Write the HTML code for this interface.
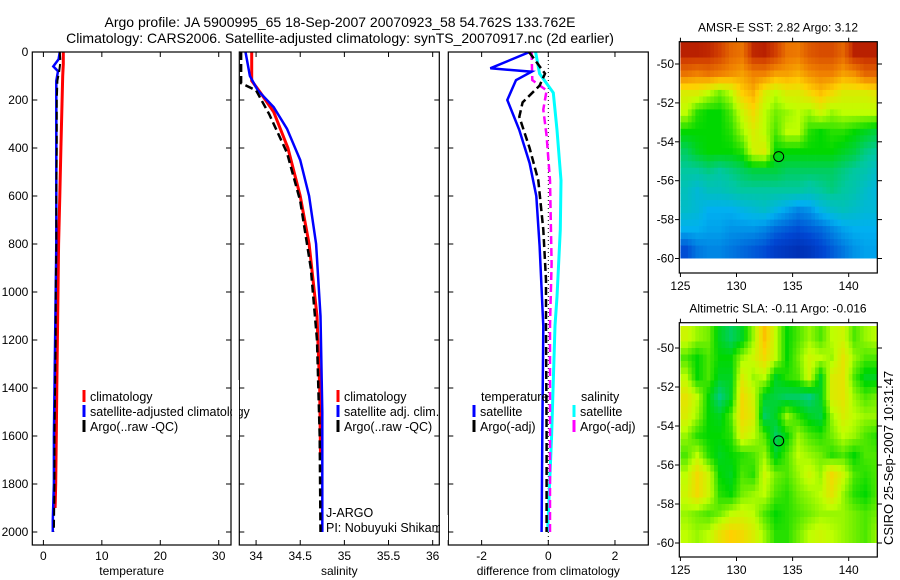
<!DOCTYPE html>
<html><head><meta charset="utf-8"><style>
html,body{margin:0;padding:0;background:#fff;}
svg{display:block;font-family:"Liberation Sans",sans-serif;}
text{fill:#000;}
</style></head><body>
<svg id="fig" width="900" height="580" viewBox="0 0 900 580">
<text x="340" y="27" font-size="14" text-anchor="middle">Argo profile: JA 5900995_65 18-Sep-2007 20070923_58 54.762S 133.762E</text>
<text x="340" y="43" font-size="14" text-anchor="middle">Climatology: CARS2006. Satellite-adjusted climatology: synTS_20070917.nc (2d earlier)</text>
<g id="layer"></g>
<text transform="translate(893,545) rotate(-90)" font-size="13">CSIRO 25-Sep-2007 10:31:47</text>
</svg>
<script>
// ---------- DATA ----------
const depthTicks=[0,200,400,600,800,1000,1200,1400,1600,1800,2000];
const tempTicks=[0,10,20,30];
const salTicks=[34,34.5,35,35.5,36];
const salTickLabels=["34","34.5","35","35.5","36"];
const diffTicks=[-2,0,2];
const lonTicks=[125,130,135,140];
const latTicks=[-50,-52,-54,-56,-58,-60];

const tClimDepth=[0,50,100,200,400,600,800,1000,1200,1400,1600,1800,1900];
const tClimVal=[3.4,3.4,3.3,3.2,3.0,2.8,2.6,2.5,2.4,2.3,2.2,2.1,2.0];
const tSatDepth=[0,30,60,80,120,200,400,600,800,1000,1200,1400,1600,1800,1950,2000];
const tSatVal=[2.8,2.6,1.7,2.5,2.2,2.2,2.2,2.2,2.2,2.1,2.0,1.9,1.8,1.8,1.6,1.6];
const tArgoDepth=[0,40,80,120,200,400,600,800,1000,1200,1400,1600,1800,2000];
const tArgoVal=[2.8,2.9,2.7,2.4,2.3,2.3,2.2,2.2,2.1,2.1,2.0,1.9,1.9,1.8];

const sClimDepth=[0,120,170,250,400,600,800,1100,1400,1680];
const sClimVal=[33.95,33.95,34.05,34.2,34.36,34.5,34.6,34.69,34.72,34.73];
const sSatDepth=[0,100,160,230,320,450,600,800,1100,1500,2000];
const sSatVal=[33.88,33.93,34.02,34.2,34.35,34.5,34.6,34.68,34.73,34.75,34.75];
const sArgoDepth=[0,130,160,260,420,620,900,1200,1600,2000];
const sArgoVal=[33.83,33.83,34.0,34.15,34.35,34.5,34.62,34.69,34.72,34.73];

const dTSatDepth=[0,68,82,117,200,325,463,600,808,1142,1600,2000];
const dTSatVal=[-0.56,-1.74,-0.5,-0.97,-1.23,-0.87,-0.56,-0.36,-0.26,-0.15,-0.18,-0.2];
const dTArgoDepth=[0,90,140,210,270,400,535,740,950,1140,1600,2000];
const dTArgoVal=[-0.58,-0.1,-0.26,-0.77,-0.87,-0.56,-0.3,-0.15,-0.07,-0.07,-0.05,-0.05];
const dSSatDepth=[0,90,170,325,535,740,1020,1140,1600,2000];
const dSSatVal=[-0.38,-0.26,0.15,0.26,0.38,0.36,0.26,0.2,0.1,-0.02];
const dSArgoDepth=[0,117,160,240,350,535,880,1140,1600,2000];
const dSArgoVal=[-0.5,-0.48,-0.05,-0.15,-0.05,0.05,0.1,0.05,0.05,0.05];

const mapLons=[125.5,126.5,127.5,128.5,129.5,130.5,131.5,132.5,133.5,134.5,135.5,136.5,137.5,138.5,139.5,140.5,141.5,142.5];
const mapLats=[-49.5,-50.5,-51.5,-52.5,-53.5,-54.5,-55.5,-56.5,-57.5,-58.5,-59.5];
const sstGrid=[
[9.6,9.6,9.5,9.2,8.6,8.4,9.5,9.6,9.2,8.4,8.3,8.8,9.0,9.0,8.6,9.6,9.6,9.6],
[8.4,8.2,8.4,8.2,8.0,7.8,8.2,8.2,7.8,7.8,7.6,8.0,8.2,8.2,7.8,8.0,8.6,8.6],
[6.6,6.6,6.2,5.8,6.2,7.2,7.6,6.6,6.2,6.6,6.6,7.0,7.4,7.0,6.6,6.6,6.6,6.8],
[6.2,5.4,5.2,5.2,5.6,6.4,7.0,6.2,5.8,6.0,6.2,6.0,6.4,6.0,6.2,6.2,6.2,6.2],
[5.2,5.2,5.2,5.2,5.4,6.0,6.6,6.2,5.6,6.2,6.2,5.4,5.2,5.4,5.4,5.2,5.0,4.8],
[4.6,5.0,5.2,5.2,5.2,5.4,6.4,6.6,5.2,5.2,5.2,5.2,5.2,5.2,5.0,4.8,4.4,4.2],
[4.2,4.2,4.4,4.2,4.4,4.6,4.8,4.8,4.8,4.6,4.6,4.6,4.6,4.6,4.4,4.2,4.0,3.6],
[3.8,3.4,3.8,3.8,4.0,4.2,4.2,4.2,4.2,4.2,4.2,4.0,4.2,4.4,4.2,4.0,3.6,3.3],
[3.6,3.4,3.0,3.0,3.0,3.2,3.4,3.6,3.2,2.8,2.4,2.6,3.2,3.6,3.8,3.6,3.4,3.4],
[3.0,3.0,2.8,2.8,2.6,2.6,2.6,2.4,2.0,1.8,1.6,1.8,2.0,2.4,2.8,3.0,3.0,3.0],
[1.6,2.2,2.4,2.4,2.2,2.0,1.8,1.6,1.2,1.0,0.8,1.0,1.4,1.8,2.2,2.6,2.8,2.8]];
const slaGrid=[
[6.4,6.0,5.8,5.0,4.6,5.0,6.0,7.4,6.2,5.2,5.6,6.0,5.6,6.2,6.4,5.6,6.0,6.2],
[5.6,5.2,5.6,5.2,5.2,6.0,6.4,7.0,6.2,5.2,5.8,6.4,6.2,6.0,6.8,6.0,5.6,5.6],
[6.2,5.2,5.6,5.0,5.0,6.6,6.0,6.2,5.0,5.4,5.6,6.4,5.0,6.6,6.8,5.6,5.0,5.0],
[6.8,6.2,5.2,4.4,5.0,7.0,6.4,5.0,4.8,4.6,4.6,4.4,5.0,6.6,6.8,6.0,5.6,5.8],
[6.6,6.0,5.2,5.0,5.6,7.0,6.6,4.6,5.0,6.0,5.4,5.0,4.8,6.0,6.6,6.2,6.0,6.0],
[6.0,5.4,5.2,5.2,5.4,6.6,6.2,5.6,4.6,5.2,6.0,5.6,5.4,5.8,6.2,6.0,5.6,5.4],
[5.6,6.2,5.4,5.0,5.2,5.4,5.6,6.0,5.0,5.6,6.2,6.0,5.8,5.4,5.6,5.2,5.6,5.6],
[6.2,7.0,6.4,5.2,5.0,5.6,5.4,6.4,5.8,5.6,6.0,6.4,6.0,7.0,6.4,5.6,5.4,5.6],
[6.4,7.0,6.4,5.4,5.2,5.8,6.0,6.2,5.6,5.4,5.8,6.0,6.2,6.8,6.0,5.4,5.2,5.6],
[6.0,5.8,5.6,5.8,6.2,6.4,6.2,5.6,5.2,5.4,5.6,5.8,6.0,6.0,6.0,5.8,5.6,5.8],
[6.2,6.0,6.2,6.8,7.2,7.0,6.6,6.0,5.4,5.4,5.8,6.2,6.4,6.2,6.0,5.8,5.6,6.0]];
const sstFloat=[133.76,-54.76];
const slaFloat=[133.76,-54.76];

// ---------- DRAW ----------
const NS="http://www.w3.org/2000/svg";
const L=document.getElementById('layer');
function mk(tag,attrs,parent){const e=document.createElementNS(NS,tag);for(const k in attrs)e.setAttribute(k,attrs[k]);(parent||L).appendChild(e);return e;}
const Y0=52,Y1=532,BOT=545,TOP=52;
const yD=d=>Y0+(d/2000)*(Y1-Y0);
function lin(d0,d1,r0,r1){return v=>r0+(v-d0)/(d1-d0)*(r1-r0);}

const panels=[
 {name:'temperature-panel',x0:32.3,x1:231,dom:[-1.9,32.1],ticks:tempTicks,labels:tempTicks.map(String),xlabel:'temperature',showY:true},
 {name:'salinity-panel',x0:239.3,x1:439.3,dom:[33.81,36.075],ticks:salTicks,labels:salTickLabels,xlabel:'salinity',showY:false},
 {name:'difference-panel',x0:448.3,x1:648.3,dom:[-3,3],ticks:diffTicks,labels:diffTicks.map(String),xlabel:'difference from climatology',showY:false}
];
panels.forEach((p,i)=>{
 p.sx=lin(p.dom[0],p.dom[1],p.x0,p.x1);
 const g=mk('g',{});
 
 
 const cp=mk('clipPath',{id:'cp'+i},g);mk('rect',{x:p.x0,y:TOP,width:p.x1-p.x0,height:BOT-TOP},cp);
 p.plot=mk('g',{'clip-path':'url(#cp'+i+')'},g);
 p.g=g;
 p.ticks.forEach((t,k)=>{const x=p.sx(t);
  mk('line',{x1:x,x2:x,y1:TOP,y2:TOP+5,stroke:'#000'},g);
  mk('line',{x1:x,x2:x,y1:BOT,y2:BOT-5,stroke:'#000'},g);
  const tl=mk('text',{x:x,y:560,'font-size':12,'text-anchor':'middle'},g);tl.textContent=p.labels[k];
  
  
 });
 depthTicks.forEach(d=>{const y=yD(d);
  mk('line',{x1:p.x0,x2:p.x0+5,y1:y,y2:y,stroke:'#000'},g);
  mk('line',{x1:p.x1,x2:p.x1-5,y1:y,y2:y,stroke:'#000'},g);
  if(p.showY){const tl=mk('text',{x:p.x0-4,y:y+4,'font-size':12,'text-anchor':'end'},g);tl.textContent=String(d);
   
   }
 });
 const xl=mk('text',{x:(p.x0+p.x1)/2,y:575,'font-size':12,'text-anchor':'middle'},g);xl.textContent=p.xlabel;
 
 
});
function line(p,ds,vs,color,w,dash,name){
 const pts=ds.map((d,k)=>p.sx(vs[k]).toFixed(1)+','+yD(d).toFixed(1)).join(' ');
 const e=mk('polyline',{points:pts,fill:'none',stroke:color,'stroke-width':w},p.plot);
 if(dash)e.setAttribute('stroke-dasharray',dash);
 
 
}
const P1=panels[0],P2=panels[1],P3=panels[2];
line(P1,tClimDepth,tClimVal,'#f00',3,null,'temp-climatology-line');
line(P1,tSatDepth,tSatVal,'#00f',2.5,null,'temp-satellite-line');
line(P1,tArgoDepth,tArgoVal,'#000',2,'8,4','temp-argo-line');
line(P2,sClimDepth,sClimVal,'#f00',3,null,'sal-climatology-line');
line(P2,sSatDepth,sSatVal,'#00f',2.5,null,'sal-satellite-line');
line(P2,sArgoDepth,sArgoVal,'#000',2.5,'8,4','sal-argo-line');
{const x=P3.sx(0);const z=mk('line',{x1:x,x2:x,y1:TOP,y2:BOT,stroke:'#000','stroke-dasharray':'1,3'},P3.plot);
 
 }
line(P3,dSSatDepth,dSSatVal,'#0ff',3,null,'dsal-satellite-line');
line(P3,dSArgoDepth,dSArgoVal,'#f0f',2.5,'8,4','dsal-argo-line');
line(P3,dTSatDepth,dTSatVal,'#00f',2.5,null,'dtemp-satellite-line');
line(P3,dTArgoDepth,dTArgoVal,'#000',2.5,'8,4','dtemp-argo-line');

function leg(x,y,color,label,name){
 const g=mk('g',{});
 
 
 if(color)mk('line',{x1:x,x2:x,y1:y-7,y2:y+5,stroke:color,'stroke-width':3},g);
 const t=mk('text',{x:x+6,y:y+4,'font-size':12.5},g);t.textContent=label;
}
leg(84,397,'#f00','climatology','legend-climatology');
leg(84,412,'#00f','satellite-adjusted climatology','legend-satellite-adjusted');
leg(84,427,'#000','Argo(..raw -QC)','legend-argo');
mk('rect',{x:232,y:380,width:7,height:60,fill:'#fff'});
leg(338,397,'#f00','climatology','legend-climatology-2');
leg(338,412,'#00f','satellite adj. clim.','legend-satellite-2');
leg(338,427,'#000','Argo(..raw -QC)','legend-argo-2');
leg(475,397,null,'temperature','legend-temperature-heading');
leg(474,412,'#00f','satellite','legend-dtemp-satellite');
leg(474,427,'#000','Argo(-adj)','legend-dtemp-argo');
leg(575,397,null,'salinity','legend-salinity-heading');
leg(574,412,'#0ff','satellite','legend-dsal-satellite');
leg(574,427,'#f0f','Argo(-adj)','legend-dsal-argo');
{const t=mk('text',{x:326,y:517,'font-size':12.5});t.textContent='J-ARGO';
 
 
 const t2=mk('text',{x:326,y:532,'font-size':12.5});t2.textContent='PI: Nobuyuki Shikama';
 
 
 mk('rect',{x:440,y:515,width:8,height:25,fill:'#fff'});}
panels.forEach(p=>{mk('rect',{x:p.x0,y:TOP,width:p.x1-p.x0,height:BOT-TOP,fill:'none',stroke:'#000','stroke-width':1.2},p.g);});

const stops=[[0,[0,24,150]],[0.15,[0,70,210]],[0.3,[0,176,240]],[0.42,[0,200,160]],[0.52,[0,216,0]],[0.62,[190,255,0]],[0.72,[255,208,0]],[0.82,[240,128,0]],[0.92,[210,64,0]],[1,[160,0,0]]];
function cmap(v){let t=Math.max(0,Math.min(1,v/10));for(let i=1;i<stops.length;i++){if(t<=stops[i][0]){const a=stops[i-1],b=stops[i];const f=(t-a[0])/(b[0]-a[0]);const c=a[1].map((x,k)=>Math.round(x+(b[1][k]-x)*f));return 'rgb('+c.join(',')+')';}}return 'rgb(160,0,0)';}

// bilinear sample of grid at fractional (row,col) index
function sample(grid,r,c){
 const R=grid.length-1,C=grid[0].length-1;
 r=Math.max(0,Math.min(R,r));c=Math.max(0,Math.min(C,c));
 const r0=Math.floor(r),c0=Math.floor(c),r1=Math.min(R,r0+1),c1=Math.min(C,c0+1);
 const fr=r-r0,fc=c-c0;
 return grid[r0][c0]*(1-fr)*(1-fc)+grid[r0][c1]*(1-fr)*fc+grid[r1][c0]*fr*(1-fc)+grid[r1][c1]*fr*fc;
}
function drawMap(o){
 const g=mk('g',{});
 
 
 const sx=lin(124.9,142.55,679.3,877.3);
 const sy=lin(-50,-60,o.y50,o.y60);
 const cid='mc'+o.name;const cp=mk('clipPath',{id:cid},g);
 mk('rect',{x:679.3,y:o.dataTop,width:198,height:sy(-60)-o.dataTop},cp);
 const cg=mk('g',{'clip-path':'url(#'+cid+')'},g);
 const S=3,lat0=mapLats[0],lon0=mapLons[0];
 const nr=mapLats.length,nc=mapLons.length;
 for(let i=-S;i<nr*S;i++){for(let j=0;j<nc*S;j++){
  const latTop=lat0+0.5-i/S, lonL=lon0-0.5+j/S;
  const rc=(lat0-(latTop-0.5/S));const cc=(lonL+0.5/S-lon0);
  const v=sample(o.grid,rc,cc);
  const x=sx(lonL),y=sy(latTop);
  const e=mk('rect',{x:x.toFixed(2),y:y.toFixed(2),width:(sx(lonL+1/S)-x+0.4).toFixed(2),height:(sy(latTop-1/S)-y+0.4).toFixed(2),fill:cmap(v)},cg);
  
  
 }}
 const m=mk('circle',{cx:sx(o.float[0]),cy:sy(o.float[1]),r:5,fill:'none',stroke:'#000','stroke-width':1},g);
 
 
 mk('rect',{x:679.3,y:o.top,width:198,height:o.bot-o.top,fill:'none',stroke:'#000','stroke-width':1.2},g);
 lonTicks.forEach(t=>{const x=sx(t);
  mk('line',{x1:x,x2:x,y1:o.top,y2:o.top-4,stroke:'#000'},g);
  mk('line',{x1:x,x2:x,y1:o.bot,y2:o.bot+4,stroke:'#000'},g);
  const tl=mk('text',{x:x,y:o.bot+17,'font-size':12,'text-anchor':'middle'},g);tl.textContent=String(t);
  
  });
 latTicks.forEach(t=>{const y=sy(t);
  mk('line',{x1:679.3,x2:675,y1:y,y2:y,stroke:'#000'},g);
  mk('line',{x1:877.3,x2:882,y1:y,y2:y,stroke:'#000'},g);
  const tl=mk('text',{x:674,y:y+4,'font-size':12,'text-anchor':'end'},g);tl.textContent=String(t);
  
  });
 const tt=mk('text',{x:778,y:o.top-10,'font-size':12,'text-anchor':'middle'},g);tt.textContent=o.title;
 
 
}
drawMap({name:'sst-map',grid:sstGrid,float:sstFloat,top:41.7,bot:273,dataTop:41.7,y50:64,y60:258.5,title:'AMSR-E SST: 2.82 Argo: 3.12'});
drawMap({name:'sla-map',grid:slaGrid,float:slaFloat,top:322.7,bot:557,dataTop:326,y50:348,y60:543,title:'Altimetric SLA: -0.11  Argo: -0.016'});
</script>
</body></html>
